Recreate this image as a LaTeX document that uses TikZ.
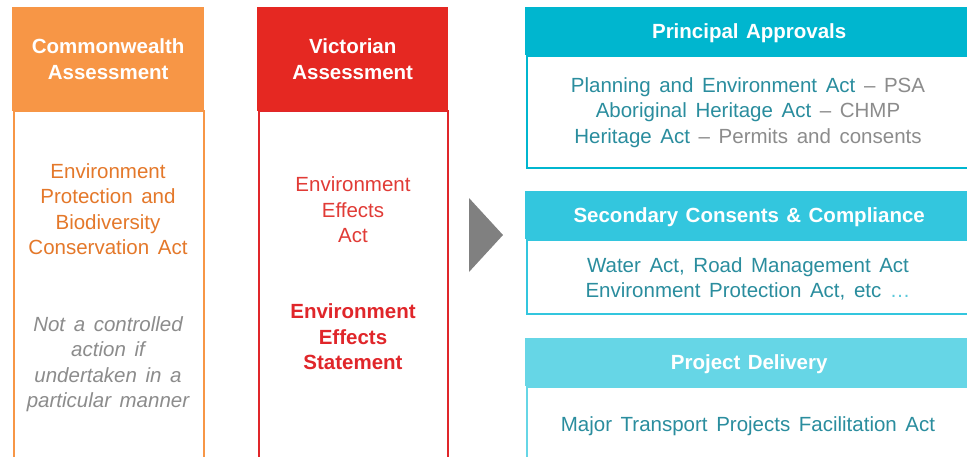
\documentclass[tikz,border=0pt]{standalone}
\usepackage{fontspec}
\setmainfont{Liberation Sans}
\definecolor{orH}{HTML}{F79646}
\definecolor{orT}{HTML}{E4782A}
\definecolor{redH}{HTML}{E52822}
\definecolor{redT}{HTML}{E13B36}
\definecolor{redB}{HTML}{E0262A}
\definecolor{grT}{HTML}{8C8C8C}
\definecolor{tealT}{HTML}{2A8D9E}
\definecolor{cyA}{HTML}{00B6CF}
\definecolor{cyB}{HTML}{33C6DE}
\definecolor{cyC}{HTML}{66D6E6}
\definecolor{dots}{HTML}{5CC9DB}
\definecolor{arrowgray}{HTML}{808080}
\newcommand{\hdrspace}{\spaceskip=0.36em plus 0.1em\relax}
\newcommand{\txtspace}{\spaceskip=0.42em plus 0.1em\relax}
\begin{document}
\begin{tikzpicture}[x=1pt,y=-1pt,
  hdr/.style={anchor=north west,inner sep=0pt,text=white,align=center,text depth=0pt,
    font=\fontsize{20.5}{26}\selectfont\bfseries,execute at begin node=\hdrspace},
  bodybox/.style={anchor=north west,inner sep=0pt,fill=white,line width=2pt},
  txt/.style={align=center,inner sep=0pt,font=\fontsize{20.5}{25.5}\selectfont,
    execute at begin node=\txtspace},
]
\useasboundingbox (0,0) rectangle (967,456);
\clip (0,0) rectangle (967,456);

% Commonwealth column
\node[bodybox,draw=orH,minimum width=190pt,minimum height=360pt] (cwb) at (13,110) {};
\node[hdr,fill=orH,minimum width=192pt,minimum height=104pt] (cwh) at (12,7) {Commonwealth\\Assessment};
\node[txt,text=orT] (cwa) at (108,209) {Environment\\Protection and\\Biodiversity\\Conservation Act};
\node[txt,text=grT,font=\fontsize{20.5}{25.5}\selectfont\itshape] (cwn) at (108,364) {Not a controlled\\action if\\undertaken in a\\particular manner};

% Victorian column
\node[bodybox,draw=redB,minimum width=189pt,minimum height=360pt] (vib) at (258,110) {};
\node[hdr,fill=redH,minimum width=191pt,minimum height=104pt] (vih) at (257,7) {Victorian\\Assessment};
\node[txt,text=redT] (via) at (353,210) {Environment\\Effects\\Act};
\node[txt,text=redB,font=\fontsize{20.5}{25.5}\selectfont\bfseries] (vis) at (353,337) {Environment\\Effects\\Statement};

% Arrow
\fill[arrowgray] (469,198) -- (503,235) -- (469,272) -- cycle;

% Principal Approvals
\node[bodybox,draw=cyA,minimum width=446pt,minimum height=112pt] (pab) at (526,55) {};
\node[hdr,fill=cyA,minimum width=448pt,minimum height=48pt] (pah) at (525,7) {Principal Approvals};
\node[txt,text=tealT] (pat) at (748,112.5) {Planning and Environment Act \textcolor{grT}{– PSA}\\
  Aboriginal Heritage Act \textcolor{grT}{– CHMP}\\
  Heritage Act \textcolor{grT}{– Permits and consents}};

% Secondary Consents
\node[bodybox,draw=cyB,minimum width=446pt,minimum height=74pt] (scb) at (526,239) {};
\node[hdr,fill=cyB,minimum width=448pt,minimum height=48pt] (sch) at (525,191) {Secondary Consents \& Compliance};
\node[txt,text=tealT] (sct) at (748,279) {Water Act, Road Management Act\\
  Environment Protection Act, etc \textcolor{dots}{…}};

% Project Delivery
\node[bodybox,draw=cyC,minimum width=446pt,minimum height=90pt] (pdb) at (526,386) {};
\node[hdr,fill=cyC,minimum width=448pt,minimum height=48pt] (pdh) at (525,338) {Project Delivery};
\node[txt,text=tealT] (pdt) at (748,426) {Major Transport Projects Facilitation Act};
\end{tikzpicture}
\end{document}
